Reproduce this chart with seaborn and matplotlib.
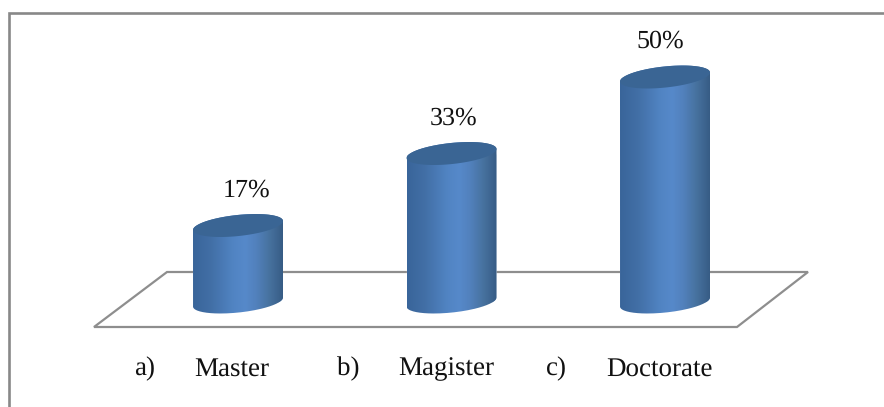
import numpy as np
import pandas as pd
import matplotlib
matplotlib.use("Agg")
import matplotlib.pyplot as plt
import seaborn as sns
from matplotlib.colors import LinearSegmentedColormap
from matplotlib.patches import PathPatch, Polygon
from matplotlib.path import Path

degrees = ["Master", "Magister", "Doctorate"]
markers = ["a)", "b)", "c)"]
shares = [17, 33, 50]
value_labels = ["17%", "33%", "50%"]

W, H = 884, 407
GREY = "#8e8e8e"
SERIF = "Liberation Serif"

sns.set_theme(style="white")
plt.rcParams["text.hinting"] = "no_hinting"
plt.rcParams["text.hinting_factor"] = 1
fig = plt.figure(figsize=(W / 100, H / 100), dpi=100, facecolor="white")
ax = fig.add_axes([0, 0, 1, 1])

df = pd.DataFrame({"degree": degrees, "share": shares})
sns.barplot(data=df, x="degree", y="share", width=0.4215, color="#4f81bd",
            saturation=1, ax=ax, zorder=3)

# Screen layout: category spacing 213.5 px, 4.5 px per percentage point
x0_px, dx_px, y0_px, dy_px = 238.0, 213.5, 302.0, 4.5


def set_limits():
    ax.set_xlim(-x0_px / dx_px, (W - x0_px) / dx_px)
    ax.set_ylim((y0_px - H) / dy_px, y0_px / dy_px)


set_limits()
ax.axis("off")


def px(x, y):
    """Pixel position from the top-left corner, as axes fraction."""
    return x / W, 1 - y / H


# Frame: only the top and left edges fall inside the canvas
frame = [px(9, H), px(9, 13), px(W, 13)]
ax.plot(*zip(*frame), transform=ax.transAxes, color="#888888", lw=1.9,
        solid_joinstyle="miter", zorder=1, clip_on=False)

# Floor of the 3-D plot
floor = [px(94, 327), px(737, 327), px(808, 272), px(167, 272)]
ax.add_patch(Polygon(floor, closed=True, transform=ax.transAxes, fill=False,
                     ec=GREY, lw=1.6, zorder=2))

shade = LinearSegmentedColormap.from_list(
    "cylinder", [(0, "#39659a"), (0.2, "#426fa6"), (0.45, "#5184c3"), (0.58, "#5689ca"),
                 (0.7, "#5281bd"), (0.85, "#47729f"), (1, "#375c85")])
gradient = np.linspace(0, 1, 256).reshape(1, -1)

TILT = 1.0      # rise of an end ellipse across its half width, in percentage points
MINOR = 2.35    # half height of an end ellipse, in percentage points
label_shift = [9, 2, -5]   # horizontal offset of each value label, in pixels

for bar, share, text, shift in zip(ax.patches, shares, value_labels, label_shift):
    left, width = bar.get_x(), bar.get_width()
    cx = left + width / 2
    half = width / 2
    t = np.linspace(0, np.pi, 80)

    # Silhouette: upper rim of the top ellipse, lower rim of the bottom ellipse
    top_x = cx + half * np.cos(t)
    top_y = share + TILT * np.cos(t) + MINOR * np.sin(t)
    bot_x = cx - half * np.cos(t)
    bot_y = 0 - TILT * np.cos(t) - MINOR * np.sin(t)
    outline = Path(np.vstack([np.column_stack([top_x, top_y]),
                              np.column_stack([bot_x, bot_y]),
                              [[top_x[0], top_y[0]]]]))
    clip = PathPatch(outline, transform=ax.transData, fc="none", ec="none")
    ax.add_patch(clip)
    bar.set_clip_path(clip)

    body = ax.imshow(gradient, extent=(left, left + width, -6, share + 6), cmap=shade,
                     vmin=0, vmax=1, aspect="auto", zorder=4, interpolation="bilinear")
    body.set_clip_path(clip)

    # Top cap
    th = np.linspace(0, 2 * np.pi, 160)
    cap = np.column_stack([cx + half * np.cos(th),
                           share + TILT * np.cos(th) + MINOR * np.sin(th)])
    ax.add_patch(Polygon(cap, closed=True, fc="#3a6594", ec="none", zorder=5))

    ax.annotate(text, (cx, share), xytext=(shift, 35.5), textcoords="offset pixels",
                ha="center", va="center", family=SERIF, fontsize=18.4,
                color="#111111", zorder=6)

set_limits()

# Lettered category labels below the floor
marker_px = [145, 348, 556]
label_px = [232, 446, 659]
for mark, mx, name, lx in zip(markers, marker_px, degrees, label_px):
    ax.text(*px(mx, 369), mark, transform=ax.transAxes, ha="center", va="center",
            family=SERIF, fontsize=19.2, color="#111111")
    ax.text(*px(lx, 369), name, transform=ax.transAxes, ha="center", va="center",
            family=SERIF, fontsize=19.2, color="#111111")

fig.savefig("out.png", dpi=100, facecolor="white")
